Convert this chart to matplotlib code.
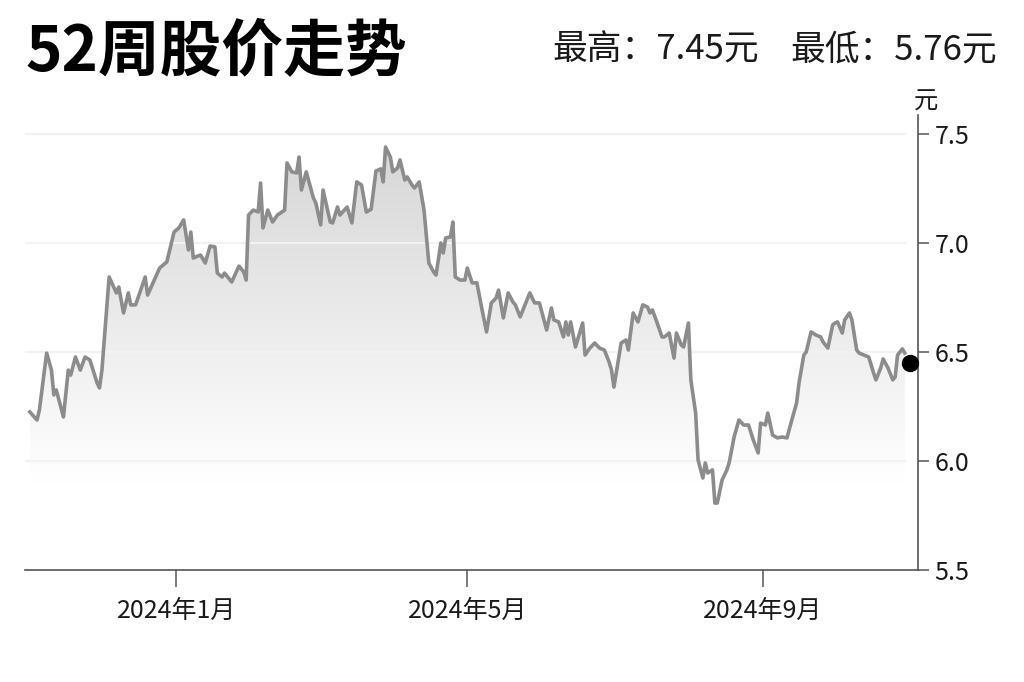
import matplotlib
matplotlib.use("Agg")
import matplotlib.pyplot as plt
import matplotlib.dates as mdates
import numpy as np
import pandas as pd

plt.rcParams['font.family'] = ['Noto Sans CJK SC', 'DejaVu Sans']

# ---------------- data ----------------
dates = [
    "2023-11-01", "2023-11-04", "2023-11-05", "2023-11-08", "2023-11-10", "2023-11-11",
    "2023-11-12", "2023-11-15", "2023-11-17", "2023-11-18", "2023-11-20", "2023-11-22",
    "2023-11-24", "2023-11-26", "2023-11-29", "2023-11-30", "2023-12-01", "2023-12-04",
    "2023-12-07", "2023-12-08", "2023-12-10", "2023-12-12", "2023-12-13", "2023-12-15",
    "2023-12-19", "2023-12-20", "2023-12-25", "2023-12-28", "2023-12-31", "2024-01-02",
    "2024-01-04", "2024-01-06", "2024-01-07", "2024-01-08", "2024-01-11", "2024-01-13",
    "2024-01-15", "2024-01-17", "2024-01-18", "2024-01-20", "2024-01-21", "2024-01-24",
    "2024-01-27", "2024-01-29", "2024-01-30", "2024-01-31", "2024-02-02", "2024-02-04",
    "2024-02-05", "2024-02-06", "2024-02-08", "2024-02-10", "2024-02-12", "2024-02-15",
    "2024-02-16", "2024-02-18", "2024-02-20", "2024-02-21", "2024-02-22", "2024-02-24",
    "2024-02-27", "2024-02-28", "2024-03-01", "2024-03-02", "2024-03-05", "2024-03-06",
    "2024-03-08", "2024-03-09", "2024-03-12", "2024-03-14", "2024-03-16", "2024-03-18",
    "2024-03-20", "2024-03-22", "2024-03-24", "2024-03-26", "2024-03-27", "2024-03-28",
    "2024-03-30", "2024-03-31", "2024-04-02", "2024-04-03", "2024-04-05", "2024-04-06",
    "2024-04-08", "2024-04-09", "2024-04-11", "2024-04-13", "2024-04-15", "2024-04-17",
    "2024-04-18", "2024-04-20", "2024-04-21", "2024-04-22", "2024-04-24", "2024-04-25",
    "2024-04-26", "2024-04-28", "2024-04-30", "2024-05-01", "2024-05-03", "2024-05-05",
    "2024-05-07", "2024-05-09", "2024-05-11", "2024-05-13", "2024-05-14", "2024-05-16",
    "2024-05-18", "2024-05-20", "2024-05-21", "2024-05-23", "2024-05-25", "2024-05-27",
    "2024-05-29", "2024-05-31", "2024-06-03", "2024-06-05", "2024-06-06", "2024-06-08",
    "2024-06-10", "2024-06-11", "2024-06-12", "2024-06-13", "2024-06-15", "2024-06-18",
    "2024-06-19", "2024-06-21", "2024-06-23", "2024-06-25", "2024-06-27", "2024-06-29",
    "2024-06-30", "2024-07-01", "2024-07-03", "2024-07-04", "2024-07-06", "2024-07-07",
    "2024-07-09", "2024-07-11", "2024-07-13", "2024-07-15", "2024-07-16", "2024-07-17",
    "2024-07-19", "2024-07-21", "2024-07-22", "2024-07-24", "2024-07-26", "2024-07-27",
    "2024-07-29", "2024-07-30", "2024-08-01", "2024-08-02", "2024-08-04", "2024-08-05",
    "2024-08-07", "2024-08-08", "2024-08-09", "2024-08-11", "2024-08-12", "2024-08-13",
    "2024-08-15", "2024-08-17", "2024-08-18", "2024-08-20", "2024-08-22", "2024-08-24",
    "2024-08-26", "2024-08-28", "2024-08-30", "2024-08-31", "2024-09-02", "2024-09-03",
    "2024-09-05", "2024-09-07", "2024-09-09", "2024-09-11", "2024-09-13", "2024-09-15",
    "2024-09-16", "2024-09-18", "2024-09-19", "2024-09-21", "2024-09-23", "2024-09-25",
    "2024-09-26", "2024-09-28", "2024-09-30", "2024-10-01", "2024-10-02", "2024-10-04",
    "2024-10-05", "2024-10-07", "2024-10-08", "2024-10-10", "2024-10-11", "2024-10-13",
    "2024-10-15", "2024-10-17", "2024-10-18", "2024-10-20", "2024-10-21", "2024-10-23",
    "2024-10-25", "2024-10-26", "2024-10-27", "2024-10-29", "2024-10-30",
]
prices = [
    6.225, 6.188, 6.234, 6.495, 6.417, 6.303,
    6.326, 6.202, 6.417, 6.394, 6.477, 6.417,
    6.477, 6.463, 6.358, 6.335, 6.417, 6.844,
    6.771, 6.798, 6.679, 6.771, 6.716, 6.716,
    6.844, 6.761, 6.885, 6.913, 7.050, 7.069,
    7.106, 6.968, 7.050, 6.931, 6.945, 6.908,
    6.986, 6.982, 6.862, 6.844, 6.862, 6.821,
    6.894, 6.867, 6.830, 7.128, 7.151, 7.142,
    7.275, 7.069, 7.151, 7.096, 7.128, 7.151,
    7.367, 7.326, 7.321, 7.394, 7.243, 7.326,
    7.206, 7.183, 7.083, 7.243, 7.096, 7.092,
    7.165, 7.128, 7.165, 7.092, 7.280, 7.266,
    7.142, 7.155, 7.330, 7.340, 7.280, 7.440,
    7.394, 7.326, 7.344, 7.381, 7.289, 7.303,
    7.266, 7.252, 7.280, 7.151, 6.908, 6.867,
    6.853, 7.000, 6.954, 7.023, 7.028, 7.096,
    6.844, 6.830, 6.830, 6.885, 6.817, 6.817,
    6.702, 6.592, 6.725, 6.748, 6.784, 6.656,
    6.771, 6.729, 6.716, 6.661, 6.716, 6.771,
    6.725, 6.725, 6.601, 6.702, 6.647, 6.638,
    6.569, 6.638, 6.578, 6.638, 6.523, 6.633,
    6.486, 6.518, 6.541, 6.518, 6.509, 6.454,
    6.417, 6.339, 6.472, 6.541, 6.555, 6.509,
    6.679, 6.638, 6.716, 6.706, 6.679, 6.693,
    6.633, 6.569, 6.569, 6.587, 6.472, 6.587,
    6.532, 6.523, 6.633, 6.372, 6.220, 6.005,
    5.922, 5.991, 5.945, 5.959, 5.807, 5.807,
    5.913, 5.959, 5.995, 6.110, 6.188, 6.165,
    6.165, 6.096, 6.037, 6.174, 6.165, 6.220,
    6.119, 6.106, 6.110, 6.106, 6.188, 6.266,
    6.358, 6.486, 6.500, 6.592, 6.578, 6.569,
    6.546, 6.518, 6.624, 6.633, 6.638, 6.587,
    6.647, 6.679, 6.647, 6.509, 6.495, 6.486,
    6.477, 6.404, 6.372, 6.427, 6.468, 6.427,
    6.372, 6.385, 6.486, 6.514, 6.495,
]
last_date = "2024-11-01"
last_price = 6.45

y_ticks = [5.5, 6.0, 6.5, 7.0, 7.5]
y_tick_labels = ["5.5", "6.0", "6.5", "7.0", "7.5"]
x_tick_dates = ["2024-01-01", "2024-05-01", "2024-09-01"]
x_tick_labels = ["2024年1月", "2024年5月", "2024年9月"]
x_range = ["2023-10-30 00:00", "2024-11-04 12:00"]
y_range = [5.5, 7.587]

title = "52周股价走势"
high_text = "最高：7.45元"
low_text = "最低：5.76元"
unit_text = "元"

# ---------------- figure ----------------
W, H = 1024, 682
fig = plt.figure(figsize=(W / 100, H / 100), dpi=100)
fig.patch.set_facecolor("white")
ax = fig.add_axes([25 / W, (H - 570) / H, (918 - 25) / W, (570 - 115) / H])

x = mdates.date2num(pd.to_datetime(dates))
y = np.array(prices)
xl = mdates.date2num(pd.to_datetime(x_range, format="%Y-%m-%d %H:%M"))
ax.set_xlim(xl[0], xl[1])
ax.set_ylim(*y_range)

# gradient fill under the line
poly = ax.fill_between(x, y, y_range[0], facecolor="none", edgecolor="none")
vals = np.linspace(y_range[0], y.max(), 300)
t = np.clip((vals - 5.9) / (y.max() - 5.9), 0, 1)
g = 1 - 0.16 * t
img_arr = np.dstack([g, g, g, np.ones_like(g)]).reshape(-1, 1, 4)
im = ax.imshow(img_arr, extent=[x[0], x[-1], y_range[0], y.max()],
               origin="lower", aspect="auto", interpolation="bilinear", zorder=1)
im.set_clip_path(poly.get_paths()[0], transform=ax.transData)
ax.set_xlim(xl[0], xl[1])
ax.set_ylim(*y_range)

# gridlines
for v in y_ticks[1:]:
    ax.plot([xl[0], x[-1]], [v, v], color="#f2f2f2", lw=1.5, zorder=2)

ax.plot(x, y, color="#8c8c8c", lw=2.6, solid_joinstyle="round", zorder=3)
ax.plot(mdates.date2num(pd.Timestamp(last_date)), last_price, "o",
        color="black", ms=11.5, zorder=4, clip_on=False)

# axes styling
for s in ["top", "left"]:
    ax.spines[s].set_visible(False)
for s in ["right", "bottom"]:
    ax.spines[s].set_color("#555555")
    ax.spines[s].set_linewidth(1.2)
ax.yaxis.tick_right()
ax.set_yticks(y_ticks)
ax.set_yticklabels(y_tick_labels)
ax.set_xticks(mdates.date2num(pd.to_datetime(x_tick_dates)))
ax.set_xticklabels(x_tick_labels)
ax.tick_params(axis="y", length=8, width=1.1, color="#555555", pad=4,
               labelsize=18, labelcolor="#1a1a1a")
ax.tick_params(axis="x", length=12, width=1.1, color="#555555", pad=8,
               labelsize=18, labelcolor="#1a1a1a")
ax.set_facecolor("white")

# texts
fig.text(25 / W, 1 - 52 / H, title, fontsize=44.5, fontweight="bold",
         va="center", ha="left", color="black")
fig.text(552 / W, 1 - 50 / H, high_text, fontsize=25, va="center", ha="left",
         color="#1a1a1a")
fig.text(997 / W, 1 - 50 / H, low_text, fontsize=25, va="center", ha="right",
         color="#1a1a1a")
fig.text(926 / W, 1 - 102 / H, unit_text, fontsize=17.5, va="center", ha="center",
         color="#1a1a1a")

fig.savefig("out.png", dpi=100, facecolor="white")
